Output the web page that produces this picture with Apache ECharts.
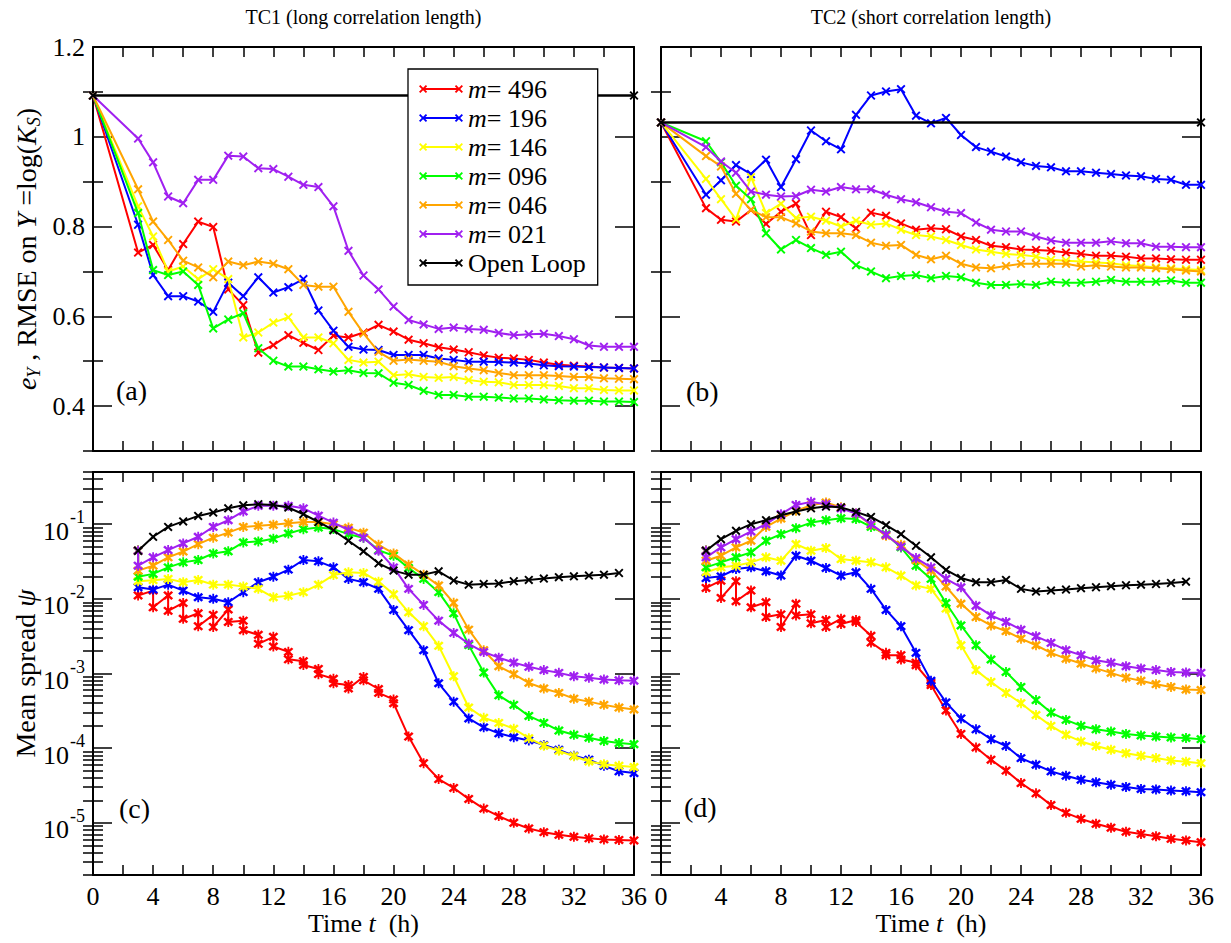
<!DOCTYPE html>
<html><head><meta charset="utf-8">
<script src="https://cdn.jsdelivr.net/npm/echarts@6/dist/echarts.min.js"></script>
<style>html,body{margin:0;padding:0;background:#fff}#c{width:1231px;height:943px}</style>
</head><body><div id="c"></div>
<script>
// ---------------- data ----------------
const seriesNames = ['m= 496','m= 196','m= 146','m= 096','m= 046','m= 021','Open Loop'];
const seriesColors = ['#ff0000','#0000ff','#ffff00','#00ff00','#ffa500','#a020f0','#000000'];

const tTop = [0,3,4,5,6,7,8,9,10,11,12,13,14,15,16,17,18,19,20,21,22,23,24,25,26,27,28,29,30,31,32,33,34,35,36];
const tBot = [3,4,5,6,7,8,9,10,11,12,13,14,15,16,17,18,19,20,21,22,23,24,25,26,27,28,29,30,31,32,33,34,35,36];
const tOpenTop = [0,36];
const tOpenBot = [3,4,5,6,7,8,9,10,11,12,13,14,15,16,17,18,19,20,21,22,23,24,25,26,27,28,29,30,31,32,33,34,35];

const xTickLabels = [0,4,8,12,16,20,24,28,32,36];
const yTopMajor = [0.4,0.6,0.8,1.0,1.2];
const yTopMinor = [0.3,0.5,0.7,0.9,1.1];
const yLogMajor = [1e-5,1e-4,1e-3,1e-2,1e-1];
const logDecades = [1e-6,1e-5,1e-4,1e-3,1e-2,1e-1];
const logMultipliers = [2,3,4,5,6,7,8,9];

// (a) TC1 RMSE
const openA = [1.092,1.092];
const a496 = [1.092,0.742,0.759,0.703,0.761,0.811,0.799,0.660,0.625,0.519,0.536,0.558,0.541,0.525,0.557,0.553,0.564,0.581,0.566,0.548,0.540,0.531,0.526,0.520,0.513,0.508,0.506,0.503,0.497,0.492,0.490,0.488,0.486,0.485,0.484];
const a196 = [1.092,0.804,0.692,0.645,0.645,0.633,0.610,0.675,0.645,0.687,0.653,0.665,0.683,0.613,0.568,0.532,0.526,0.525,0.514,0.514,0.514,0.506,0.503,0.499,0.499,0.498,0.497,0.495,0.491,0.489,0.488,0.487,0.486,0.485,0.484];
const a146 = [1.092,0.845,0.778,0.700,0.711,0.683,0.705,0.683,0.553,0.564,0.586,0.598,0.553,0.553,0.540,0.503,0.497,0.499,0.469,0.471,0.465,0.463,0.465,0.458,0.454,0.453,0.447,0.447,0.447,0.445,0.440,0.440,0.436,0.435,0.435];
const a096 = [1.092,0.830,0.703,0.692,0.700,0.670,0.573,0.593,0.607,0.529,0.501,0.488,0.488,0.482,0.477,0.480,0.474,0.473,0.452,0.447,0.434,0.425,0.425,0.421,0.421,0.419,0.417,0.417,0.415,0.413,0.412,0.412,0.410,0.410,0.409];
const a046 = [1.092,0.883,0.811,0.770,0.724,0.709,0.687,0.722,0.714,0.722,0.717,0.705,0.670,0.666,0.666,0.610,0.562,0.521,0.501,0.504,0.501,0.499,0.489,0.484,0.480,0.474,0.469,0.469,0.469,0.467,0.465,0.465,0.462,0.461,0.460];
const a021 = [1.092,0.996,0.943,0.867,0.852,0.904,0.904,0.958,0.956,0.930,0.928,0.911,0.893,0.888,0.845,0.746,0.691,0.660,0.622,0.592,0.582,0.572,0.575,0.572,0.570,0.563,0.558,0.560,0.561,0.556,0.549,0.535,0.532,0.532,0.532];

// (b) TC2 RMSE
const openB = [1.032,1.032];
const b496 = [1.032,0.841,0.815,0.811,0.837,0.806,0.833,0.851,0.781,0.833,0.821,0.796,0.831,0.824,0.807,0.793,0.796,0.794,0.778,0.770,0.757,0.754,0.749,0.748,0.746,0.742,0.739,0.735,0.735,0.733,0.729,0.729,0.727,0.726,0.726];
const b196 = [1.032,0.871,0.903,0.937,0.917,0.949,0.888,0.950,1.014,0.990,0.972,1.049,1.092,1.101,1.106,1.047,1.030,1.042,1.004,0.977,0.967,0.956,0.943,0.935,0.932,0.923,0.923,0.920,0.917,0.914,0.912,0.906,0.904,0.893,0.893];
const b146 = [1.032,0.906,0.861,0.816,0.910,0.830,0.851,0.819,0.822,0.813,0.800,0.813,0.804,0.807,0.793,0.781,0.778,0.770,0.759,0.749,0.744,0.739,0.737,0.733,0.726,0.724,0.722,0.720,0.718,0.714,0.712,0.709,0.707,0.705,0.703];
const b096 = [1.032,0.990,0.943,0.891,0.861,0.785,0.749,0.770,0.752,0.737,0.744,0.714,0.700,0.685,0.690,0.692,0.685,0.690,0.687,0.675,0.670,0.670,0.672,0.670,0.677,0.675,0.675,0.677,0.681,0.677,0.677,0.677,0.680,0.675,0.675];
const b046 = [1.032,0.957,0.934,0.873,0.837,0.821,0.821,0.807,0.789,0.785,0.785,0.781,0.764,0.757,0.759,0.737,0.727,0.735,0.717,0.709,0.707,0.712,0.717,0.717,0.717,0.717,0.711,0.714,0.711,0.709,0.709,0.707,0.705,0.702,0.700];
const b021 = [1.032,0.977,0.945,0.920,0.878,0.871,0.867,0.868,0.882,0.878,0.888,0.883,0.883,0.871,0.861,0.854,0.843,0.833,0.830,0.809,0.793,0.789,0.789,0.778,0.769,0.764,0.764,0.764,0.767,0.763,0.763,0.755,0.755,0.754,0.754];

// (c) TC1 mean spread (analysis values at t = 3..36)
const openC = [0.0441,0.0678,0.092,0.109,0.129,0.143,0.163,0.179,0.185,0.181,0.167,0.136,0.107,0.083,0.060,0.0433,0.0299,0.0239,0.0211,0.0211,0.0234,0.0176,0.0155,0.0158,0.016,0.0172,0.0179,0.0187,0.0195,0.0200,0.0205,0.0211,0.0222];
const c496 = [0.0111,0.0077,0.0069,0.0054,0.0043,0.0042,0.0049,0.0038,0.0025,0.0023,0.00155,0.0013,0.00098,0.00074,0.00063,0.00081,0.00055,0.0004,0.000143,0.000063,0.0000386,0.0000293,0.0000209,0.0000155,0.0000123,0.00001,0.0000084,0.0000075,0.0000069,0.0000065,0.0000062,0.000006,0.0000059,0.0000058];
const c496ForecastTimes = [4,5,6,7,8,9,10,11,12,13,14,15,16,17,18,19,20];
const c496Forecast = [0.0129,0.0111,0.0088,0.0064,0.0061,0.0072,0.0051,0.0033,0.0031,0.00195,0.00146,0.00115,0.00085,0.0007,0.0009,0.00062,0.00045];
const c196 = [0.0143,0.0133,0.0155,0.0129,0.0105,0.0100,0.0090,0.0123,0.0167,0.0198,0.0246,0.0331,0.0318,0.0264,0.0185,0.0167,0.0136,0.0071,0.0038,0.00205,0.00074,0.00042,0.00025,0.00019,0.000158,0.00014,0.000127,0.00011,0.000095,0.000079,0.00007,0.000058,0.000049,0.0000464];
const c146 = [0.0172,0.0178,0.0185,0.0167,0.0179,0.0155,0.0155,0.0146,0.0136,0.0105,0.0110,0.0123,0.0155,0.0208,0.0227,0.0222,0.0170,0.0115,0.0066,0.0043,0.00235,0.00092,0.00035,0.000255,0.000218,0.000182,0.000136,0.000108,0.000092,0.000078,0.0000664,0.000061,0.000058,0.0000558];
const c096 = [0.0198,0.0216,0.0264,0.0308,0.0331,0.0406,0.0433,0.057,0.0588,0.064,0.075,0.0858,0.090,0.086,0.0735,0.066,0.045,0.0378,0.0259,0.0185,0.0123,0.0064,0.0024,0.00103,0.00051,0.00038,0.00027,0.000218,0.000172,0.000151,0.000138,0.000125,0.000117,0.000113];
const c046 = [0.0239,0.0278,0.036,0.043,0.054,0.066,0.077,0.092,0.095,0.098,0.103,0.107,0.107,0.100,0.090,0.077,0.053,0.0406,0.0287,0.0211,0.0151,0.00885,0.00387,0.00205,0.00125,0.00098,0.00075,0.00063,0.00055,0.00046,0.00042,0.00038,0.00035,0.00033];
const c021 = [0.0278,0.036,0.045,0.0552,0.0678,0.092,0.113,0.148,0.176,0.176,0.176,0.163,0.130,0.105,0.083,0.066,0.044,0.0264,0.0136,0.0083,0.0051,0.0035,0.0025,0.00194,0.00163,0.0014,0.00123,0.00111,0.00102,0.00092,0.00088,0.00083,0.00081,0.0008];

// (d) TC2 mean spread
const openD = [0.0441,0.063,0.0815,0.100,0.113,0.132,0.148,0.163,0.172,0.168,0.146,0.125,0.097,0.0735,0.0514,0.036,0.0244,0.019,0.0167,0.0167,0.0179,0.0136,0.0125,0.0129,0.0133,0.0139,0.0143,0.0148,0.0152,0.0155,0.0158,0.0163,0.017];
const d496 = [0.014,0.0103,0.0093,0.0077,0.0057,0.0042,0.006,0.0047,0.0042,0.0046,0.0049,0.0026,0.00176,0.00154,0.00129,0.0007,0.00032,0.000155,0.000102,0.00007,0.00005,0.0000341,0.0000248,0.0000173,0.0000136,0.0000113,0.0000097,0.0000086,0.0000076,0.0000071,0.0000066,0.0000061,0.0000058,0.0000055];
const d496ForecastTimes = [4,5,6,7,8,9,10,11,12,13,14,15,16,17,18];
const d496Forecast = [0.0175,0.0172,0.0129,0.009,0.0062,0.0086,0.0062,0.0052,0.0054,0.0052,0.0032,0.00189,0.00176,0.0014,0.00075];
const d196 = [0.019,0.020,0.0251,0.0264,0.0234,0.0205,0.0378,0.0324,0.0259,0.0205,0.0227,0.0136,0.0071,0.0043,0.00189,0.0008,0.00041,0.00025,0.000179,0.000132,0.000107,0.0000736,0.00006,0.0000489,0.0000428,0.0000378,0.0000349,0.0000324,0.0000302,0.0000284,0.000028,0.000027,0.0000265,0.0000257];
const d146 = [0.0227,0.0264,0.0278,0.0308,0.036,0.0324,0.054,0.0441,0.0479,0.0341,0.0324,0.0308,0.0264,0.0205,0.0151,0.0136,0.0074,0.00239,0.00111,0.00077,0.00055,0.0004,0.000278,0.000199,0.000151,0.000123,0.000107,0.000095,0.0000857,0.000079,0.0000736,0.0000685,0.0000658,0.000063];
const d096 = [0.0264,0.0308,0.036,0.0419,0.06,0.0735,0.0885,0.105,0.113,0.12,0.117,0.092,0.0735,0.0489,0.0278,0.0185,0.0088,0.0044,0.00239,0.00154,0.00105,0.00066,0.00044,0.0003,0.000239,0.000199,0.000179,0.000167,0.000155,0.000148,0.000143,0.000139,0.000137,0.000132];
const d046 = [0.0324,0.0378,0.0489,0.06,0.092,0.119,0.151,0.179,0.195,0.168,0.139,0.098,0.070,0.053,0.0331,0.0239,0.0146,0.0086,0.0057,0.0044,0.0037,0.00293,0.00239,0.00189,0.00158,0.00136,0.00117,0.00102,0.00088,0.0008,0.00072,0.00066,0.00061,0.0006];
const d021 = [0.036,0.0489,0.063,0.080,0.100,0.136,0.181,0.199,0.185,0.163,0.139,0.100,0.072,0.050,0.0352,0.0264,0.0185,0.0143,0.0081,0.006,0.0049,0.00386,0.00315,0.00257,0.00205,0.00176,0.0015,0.00139,0.00125,0.00117,0.00111,0.00105,0.00103,0.00102];

// ---------------- styling ----------------
const FONT = 'Liberation Serif';
const XSYM = 'path://M-5,-3.5L-3.5,-5L0,-1.5L3.5,-5L5,-3.5L1.5,0L5,3.5L3.5,5L0,1.5L-3.5,5L-5,3.5L-1.5,0Z';
const ASYM = 'path://M-5,-3.2L-3.2,-5L0,-1.8L3.2,-5L5,-3.2L1.8,0L5,3.2L3.2,5L0,1.8L-3.2,5L-5,3.2L-1.8,0Z' +
  'M-0.9,-5.6L0.9,-5.6L0.9,5.6L-0.9,5.6Z';
const LEGEND_ICON = 'path://M0.5,2.3L1.8,1L4.5,3.7L7.2,1L8.5,2.3L5.8,5L8.5,7.7L7.2,9L4.5,6.3L1.8,9L0.5,7.7L3.2,5Z' +
  'M35.5,2.3L36.8,1L39.5,3.7L42.2,1L43.5,2.3L40.8,5L43.5,7.7L42.2,9L39.5,6.3L36.8,9L35.5,7.7L38.2,5Z' +
  'M4.5,4.1L39.5,4.1L39.5,5.9L4.5,5.9Z';

const grids = [
  {left: 93, top: 47, width: 541, height: 404},
  {left: 661, top: 47, width: 540, height: 404},
  {left: 93, top: 472, width: 541, height: 403},
  {left: 661, top: 472, width: 540, height: 403}
].map(g => Object.assign({containLabel: false, outerBoundsMode: 'none'}, g));

const lineBlack = {color: '#000', width: 2};
const tickStyle = {color: '#000', width: 1.5};

const logMinor = [];
logDecades.forEach(d => logMultipliers.forEach(m => logMinor.push(+(d * m).toPrecision(3))));

function xAxes(g, withLabels, title) {
  const base = {type: 'value', gridIndex: g, min: 0, max: 36, interval: 2, splitLine: {show: false}};
  return [
    Object.assign({}, base, {
      position: 'bottom',
      axisLine: {show: true, onZero: false, lineStyle: lineBlack},
      axisTick: {show: true, inside: true, length: 10, lineStyle: tickStyle},
      axisLabel: {show: withLabels, customValues: xTickLabels, margin: 8, fontFamily: FONT, fontSize: 26, color: '#000'},
      name: withLabels ? '{n|Time }{i|t}{n|  (h)}' : '',
      nameLocation: 'middle', nameGap: 35,
      nameTextStyle: {fontFamily: FONT, fontSize: 26, color: '#000',
        rich: {n: {fontFamily: FONT, fontSize: 26, color: '#000'}, i: {fontFamily: FONT, fontSize: 26, fontStyle: 'italic', color: '#000'}}}
    }),
    Object.assign({}, base, {
      position: 'top',
      axisLine: {show: true, onZero: false, lineStyle: lineBlack},
      axisTick: {show: true, inside: true, length: 10, lineStyle: tickStyle},
      axisLabel: {show: false},
      name: title || '', nameLocation: 'middle', nameGap: 20,
      nameTextStyle: {fontFamily: FONT, fontSize: 20, color: '#000'}
    })
  ];
}

function yAxesTop(g, withLabels) {
  const base = {type: 'value', gridIndex: g, min: 0.3, max: 1.2, interval: 0.1, splitLine: {show: false}};
  const main = Object.assign({}, base, {
    position: 'left',
    axisLine: {show: true, onZero: false, lineStyle: lineBlack},
    axisTick: {show: true, inside: true, length: 19, customValues: yTopMajor, lineStyle: tickStyle},
    axisLabel: {show: withLabels, customValues: yTopMajor, margin: 8, fontFamily: FONT, fontSize: 26, color: '#000',
      formatter: v => String(Math.round(v * 10) / 10)}
  });
  if (withLabels) {
    Object.assign(main, {
      name: '{i|e}{sub|Y}{n| , RMSE on }{i|Y}{n| =log(}{i|K}{sub|S}{n|)}',
      nameLocation: 'middle', nameGap: 50,
      nameTextStyle: {fontFamily: FONT, fontSize: 28, color: '#000', lineHeight: 34,
        rich: {
          n: {fontFamily: FONT, fontSize: 28, color: '#000'},
          i: {fontFamily: FONT, fontSize: 28, fontStyle: 'italic', color: '#000'},
          sub: {fontFamily: FONT, fontSize: 18, fontStyle: 'italic', color: '#000', verticalAlign: 'bottom'}
        }}
    });
  }
  return [
    main,
    Object.assign({}, base, {position: 'left', axisLine: {show: false},
      axisTick: {show: true, inside: true, length: 10, customValues: yTopMinor, lineStyle: tickStyle}, axisLabel: {show: false}}),
    Object.assign({}, base, {position: 'right', axisLine: {show: true, onZero: false, lineStyle: lineBlack},
      axisTick: {show: true, inside: true, length: 19, customValues: yTopMajor, lineStyle: tickStyle}, axisLabel: {show: false}}),
    Object.assign({}, base, {position: 'right', axisLine: {show: false},
      axisTick: {show: true, inside: true, length: 10, customValues: yTopMinor, lineStyle: tickStyle}, axisLabel: {show: false}})
  ];
}

function yAxesLog(g, withLabels) {
  const base = {type: 'log', logBase: 10, gridIndex: g, min: 2e-6, max: 0.5, splitLine: {show: false}};
  const main = Object.assign({}, base, {
    position: 'left',
    axisLine: {show: true, onZero: false, lineStyle: lineBlack},
    axisTick: {show: true, inside: true, length: 19, customValues: yLogMajor, lineStyle: tickStyle},
    axisLabel: {show: withLabels, customValues: yLogMajor, margin: 8, fontFamily: FONT, fontSize: 26, color: '#000',
      lineHeight: 40,
      formatter: v => '{b|10}{s|' + Math.round(Math.log10(v)) + '}',
      rich: {
        b: {fontFamily: FONT, fontSize: 26, color: '#000', verticalAlign: 'bottom'},
        s: {fontFamily: FONT, fontSize: 18, color: '#000', verticalAlign: 'top', padding: [4, 0, 0, 1]}
      }}
  });
  if (withLabels) {
    Object.assign(main, {
      name: '{n|Mean spread }{i|ψ}',
      nameLocation: 'middle', nameGap: 50,
      nameTextStyle: {fontFamily: FONT, fontSize: 28, color: '#000',
        rich: {n: {fontFamily: FONT, fontSize: 28, color: '#000'}, i: {fontFamily: FONT, fontSize: 28, fontStyle: 'italic', color: '#000'}}}
    });
  }
  return [
    main,
    Object.assign({}, base, {position: 'left', axisLine: {show: false},
      axisTick: {show: true, inside: true, length: 10, customValues: logMinor, lineStyle: tickStyle}, axisLabel: {show: false}}),
    Object.assign({}, base, {position: 'right', axisLine: {show: true, onZero: false, lineStyle: lineBlack},
      axisTick: {show: true, inside: true, length: 19, customValues: yLogMajor, lineStyle: tickStyle}, axisLabel: {show: false}}),
    Object.assign({}, base, {position: 'right', axisLine: {show: false},
      axisTick: {show: true, inside: true, length: 10, customValues: logMinor, lineStyle: tickStyle}, axisLabel: {show: false}})
  ];
}

function mkLine(g, k, data, lw, size, sym) {
  return {
    type: 'line', name: seriesNames[k], xAxisIndex: 2 * g, yAxisIndex: 4 * g,
    data: data, symbol: sym || XSYM, symbolSize: size || 9, showSymbol: true, showAllSymbol: true,
    lineStyle: {color: seriesColors[k], width: lw || 2},
    itemStyle: {color: seriesColors[k], borderWidth: 0},
    emphasis: {disabled: true}, animation: false, z: 2 + k * 0.01
  };
}

function topSeries(g, arrs, openVals) {
  const out = arrs.map((vals, k) => mkLine(g, k, tTop.map((t, i) => [t, vals[i]])));
  out.push(mkLine(g, 6, tOpenTop.map((t, i) => [t, openVals[i]]), 2.5));
  return out;
}

function botSeries(g, arrs, openVals, fcTimes, fcVals) {
  const out = arrs.map((vals, k) => {
    const d = [[tBot[0], openVals[0]]];
    tBot.forEach((t, i) => {
      if (k === 0) {
        const j = fcTimes.indexOf(t);
        if (j >= 0) d.push([t, fcVals[j]]);
      }
      d.push([t, vals[i]]);
    });
    return mkLine(g, k, d, 2, 10, ASYM);
  });
  out.push(mkLine(g, 6, tOpenBot.map((t, i) => [t, openVals[i]]), 2, 9));
  return out;
}

const panelLetter = (txt, left, top) => ({text: txt, left: left, top: top, padding: 0,
  textStyle: {fontFamily: FONT, fontSize: 28, fontWeight: 'normal', color: '#000'}});

const option = {
  backgroundColor: '#fff',
  animation: false,
  grid: grids,
  title: [panelLetter('(a)', 116, 376), panelLetter('(b)', 686, 377), panelLetter('(c)', 119, 794), panelLetter('(d)', 684, 793)],
  legend: {
    show: true, orient: 'vertical', left: 408, top: 69,
    padding: [7, 12, 9, 11], itemGap: 3, itemWidth: 44, itemHeight: 10, itemTextGap: 21,
    icon: LEGEND_ICON, selectedMode: false,
    borderColor: '#000', borderWidth: 1.3, backgroundColor: '#fff',
    itemStyle: {borderWidth: 0},
    data: seriesNames,
    formatter: n => n.startsWith('m=') ? '{i|m}{n|' + n.slice(1) + '}' : '{n|' + n + '}',
    textStyle: {fontFamily: FONT, fontSize: 26, color: '#000',
      rich: {n: {fontFamily: FONT, fontSize: 26, color: '#000'}, i: {fontFamily: FONT, fontSize: 26, fontStyle: 'italic', color: '#000'}}}
  },
  xAxis: [].concat(
    xAxes(0, false, 'TC1 (long correlation length)'),
    xAxes(1, false, 'TC2 (short correlation length)'),
    xAxes(2, true, ''),
    xAxes(3, true, '')
  ),
  yAxis: [].concat(yAxesTop(0, true), yAxesTop(1, false), yAxesLog(2, true), yAxesLog(3, false)),
  series: [].concat(
    topSeries(0, [a496, a196, a146, a096, a046, a021], openA),
    topSeries(1, [b496, b196, b146, b096, b046, b021], openB),
    botSeries(2, [c496, c196, c146, c096, c046, c021], openC, c496ForecastTimes, c496Forecast),
    botSeries(3, [d496, d196, d146, d096, d046, d021], openD, d496ForecastTimes, d496Forecast)
  )
};

const chart = echarts.init(document.getElementById('c'), null, {renderer: 'svg', width: 1231, height: 943});
chart.setOption(option);
</script>
</body></html>
